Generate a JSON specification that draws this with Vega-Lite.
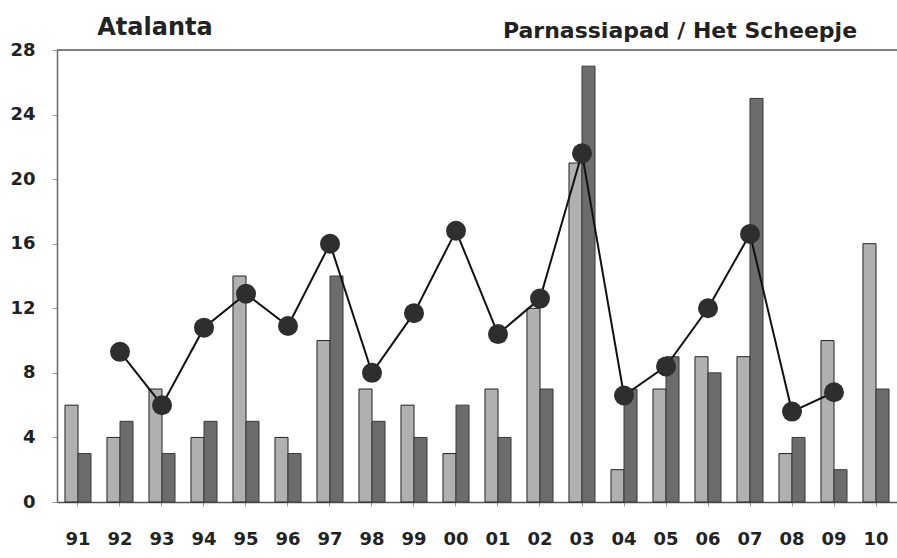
{
  "$schema": "https://vega.github.io/schema/vega-lite/v6.json",
  "width": 840,
  "height": 452,
  "autosize": {"type": "none"},
  "padding": {"left": 57, "top": 50, "right": 0, "bottom": 56},
  "background": "white",
  "view": {"stroke": null},
  "config": {
    "font": "DejaVu Sans",
    "axis": {
      "labelFont": "DejaVu Sans",
      "labelFontWeight": "bold",
      "labelFontSize": 18,
      "labelColor": "#222222",
      "domainColor": "#444444",
      "domainWidth": 1.5,
      "tickColor": "#999999",
      "grid": false,
      "title": null
    }
  },
  "datasets": {
    "bars": [
      {"year": "91", "series": "a", "value": 6}, {"year": "91", "series": "b", "value": 3},
      {"year": "92", "series": "a", "value": 4}, {"year": "92", "series": "b", "value": 5},
      {"year": "93", "series": "a", "value": 7}, {"year": "93", "series": "b", "value": 3},
      {"year": "94", "series": "a", "value": 4}, {"year": "94", "series": "b", "value": 5},
      {"year": "95", "series": "a", "value": 14}, {"year": "95", "series": "b", "value": 5},
      {"year": "96", "series": "a", "value": 4}, {"year": "96", "series": "b", "value": 3},
      {"year": "97", "series": "a", "value": 10}, {"year": "97", "series": "b", "value": 14},
      {"year": "98", "series": "a", "value": 7}, {"year": "98", "series": "b", "value": 5},
      {"year": "99", "series": "a", "value": 6}, {"year": "99", "series": "b", "value": 4},
      {"year": "00", "series": "a", "value": 3}, {"year": "00", "series": "b", "value": 6},
      {"year": "01", "series": "a", "value": 7}, {"year": "01", "series": "b", "value": 4},
      {"year": "02", "series": "a", "value": 12}, {"year": "02", "series": "b", "value": 7},
      {"year": "03", "series": "a", "value": 21}, {"year": "03", "series": "b", "value": 27},
      {"year": "04", "series": "a", "value": 2}, {"year": "04", "series": "b", "value": 7},
      {"year": "05", "series": "a", "value": 7}, {"year": "05", "series": "b", "value": 9},
      {"year": "06", "series": "a", "value": 9}, {"year": "06", "series": "b", "value": 8},
      {"year": "07", "series": "a", "value": 9}, {"year": "07", "series": "b", "value": 25},
      {"year": "08", "series": "a", "value": 3}, {"year": "08", "series": "b", "value": 4},
      {"year": "09", "series": "a", "value": 10}, {"year": "09", "series": "b", "value": 2},
      {"year": "10", "series": "a", "value": 16}, {"year": "10", "series": "b", "value": 7}
    ],
    "line": [
      {"year": "92", "value": 9.3},
      {"year": "93", "value": 6.0},
      {"year": "94", "value": 10.8},
      {"year": "95", "value": 12.9},
      {"year": "96", "value": 10.9},
      {"year": "97", "value": 16.0},
      {"year": "98", "value": 8.0},
      {"year": "99", "value": 11.7},
      {"year": "00", "value": 16.8},
      {"year": "01", "value": 10.4},
      {"year": "02", "value": 12.6},
      {"year": "03", "value": 21.6},
      {"year": "04", "value": 6.6},
      {"year": "05", "value": 8.4},
      {"year": "06", "value": 12.0},
      {"year": "07", "value": 16.6},
      {"year": "08", "value": 5.6},
      {"year": "09", "value": 6.8}
    ],
    "t1": [{"year": "93", "value": 28, "label": "Atalanta"}],
    "t2": [{"year": "05", "value": 28, "label": "Parnassiapad / Het Scheepje"}]
  },
  "encoding": {
    "x": {
      "field": "year",
      "type": "ordinal",
      "sort": ["91","92","93","94","95","96","97","98","99","00","01","02","03","04","05","06","07","08","09","10"],
      "scale": {"paddingInner": 0.38, "paddingOuter": 0.19},
      "axis": {"labelAngle": 0, "tickSize": 4, "labelPadding": 24, "domainColor": "#555555"}
    }
  },
  "layer": [
    {
      "data": {"name": "bars"},
      "mark": {"type": "bar", "strokeWidth": 1},
      "encoding": {
        "xOffset": {"field": "series", "type": "nominal", "scale": {"paddingInner": 0}},
        "y": {
          "field": "value",
          "type": "quantitative",
          "scale": {"domain": [0, 28], "nice": false},
          "axis": {"values": [0,4,8,12,16,20,24,28], "tickSize": 5, "labelPadding": 17, "domainColor": "#666666"}
        },
        "fill": {
          "field": "series",
          "type": "nominal",
          "scale": {"domain": ["a", "b"], "range": ["#b0b0b0", "#6c6c6c"]},
          "legend": null
        },
        "stroke": {
          "field": "series",
          "type": "nominal",
          "scale": {"domain": ["a", "b"], "range": ["#222222", "#3a3a3a"]},
          "legend": null
        }
      }
    },
    {
      "data": {"name": "line"},
      "mark": {"type": "line", "color": "#111111", "strokeWidth": 2},
      "encoding": {"y": {"field": "value", "type": "quantitative"}}
    },
    {
      "data": {"name": "line"},
      "mark": {"type": "point", "filled": true, "size": 400, "color": "#2e2e2e", "opacity": 1},
      "encoding": {"y": {"field": "value", "type": "quantitative"}}
    },
    {
      "data": {"name": "t1"},
      "mark": {"type": "rule", "color": "#555555", "strokeWidth": 1.5},
      "encoding": {"x": null, "y": {"datum": 28}}
    },
    {
      "data": {"name": "t1"},
      "mark": {"type": "text", "fontWeight": "bold", "color": "#222222", "align": "center", "baseline": "alphabetic", "fontSize": 24, "dx": -7, "dy": -15},
      "encoding": {
        "y": {"field": "value", "type": "quantitative"},
        "text": {"field": "label"}
      }
    },
    {
      "data": {"name": "t2"},
      "mark": {"type": "text", "fontWeight": "bold", "color": "#222222", "align": "center", "baseline": "alphabetic", "fontSize": 22, "dx": 14, "dy": -12},
      "encoding": {
        "y": {"field": "value", "type": "quantitative"},
        "text": {"field": "label"}
      }
    }
  ]
}
